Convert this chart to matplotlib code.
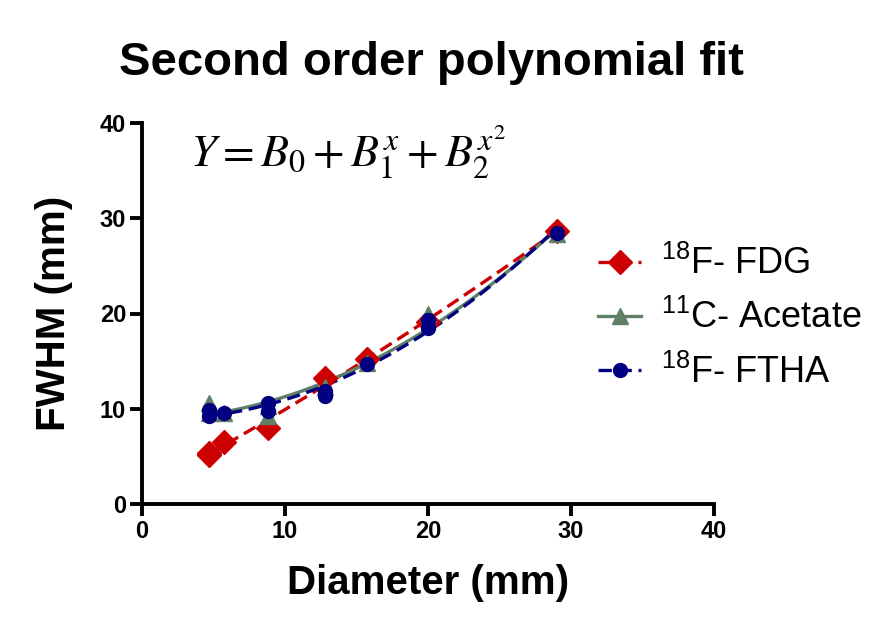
import numpy as np
import matplotlib
matplotlib.use("Agg")
import matplotlib.pyplot as plt
from matplotlib.lines import Line2D

plt.rcParams['font.family'] = ['Liberation Sans', 'DejaVu Sans']
plt.rcParams['mathtext.fontset'] = 'custom'
plt.rcParams['mathtext.rm'] = 'Liberation Sans'
plt.rcParams['mathtext.it'] = 'Liberation Sans'

# Data (diameter in mm, FWHM in mm)
fdg_x = [4.7, 4.7, 5.7, 8.8, 12.8, 15.7, 20.0, 29.0]
fdg_y = [5.1, 5.4, 6.5, 8.0, 13.2, 15.2, 19.1, 28.7]
ace_x = [4.7, 4.7, 5.7, 8.8, 8.8, 12.8, 15.7, 20.0, 29.0]
ace_y = [10.6, 9.6, 9.6, 9.2, 10.3, 12.3, 14.8, 20.0, 28.3]
ftha_x = [4.7, 4.7, 5.7, 8.8, 8.8, 12.8, 12.8, 15.7, 20.0, 20.0, 29.0]
ftha_y = [9.9, 9.2, 9.6, 10.6, 9.8, 11.3, 11.9, 14.7, 19.3, 18.5, 28.5]

labels = ['$^{18}$F- FDG', '$^{11}$C- Acetate', '$^{18}$F- FTHA']
colors = ['#CC0000', '#5F7F66', '#000080']
markers = ['D', '^', 'o']
linestyles = [(0, (4, 2)), '-', (0, (4, 2))]

x_ticks = [0, 10, 20, 30, 40]
y_ticks = [0, 10, 20, 30, 40]

fig = plt.figure(figsize=(8.76, 6.27), dpi=100)
ax = fig.add_axes([142/876, 1-504/627, (714-142)/876, (504-123)/627])

series = [(fdg_x, fdg_y), (ace_x, ace_y), (ftha_x, ftha_y)]
msizes = [12, 11, 10]
for (xs, ys), c, m, ls, ms in zip(series, colors, markers, linestyles, msizes):
    coef = np.polyfit(xs, ys, 2)
    xf = np.linspace(min(xs), max(xs), 200)
    ax.plot(xf, np.polyval(coef, xf), color=c, lw=2.4, linestyle=ls, zorder=3)
    ax.plot(xs, ys, linestyle='none', marker=m, color=c, markersize=ms, zorder=4)

ax.set_xlim(0, 40)
ax.set_ylim(0, 40)
ax.set_xticks(x_ticks)
ax.set_yticks(y_ticks)
for s in ['top', 'right']:
    ax.spines[s].set_visible(False)
for s in ['left', 'bottom']:
    ax.spines[s].set_linewidth(2.8)
ax.tick_params(direction='out', length=8.5, width=2.8, labelsize=17, pad=3)
for lab in ax.get_xticklabels() + ax.get_yticklabels():
    lab.set_fontweight('bold')

ax.set_xlabel('Diameter (mm)', fontsize=29, fontweight='bold', va='center')
ax.xaxis.set_label_coords(0.5, (504-583)/381)
ax.set_ylabel('FWHM (mm)', fontsize=29, fontweight='bold', va='center')
ax.yaxis.set_label_coords((54-142)/572, 0.5)
fig.text(431/876, 1-63/627, 'Second order polynomial fit', fontsize=34, fontweight='bold',
         ha='center', va='center')

fig.text(190/876, 1-152/627, r'$Y = B_0 + B_1^x + B_2^{x^2}$', fontsize=33,
         ha='left', va='center', math_fontfamily='stix')

handles = [Line2D([0], [0], color=c, lw=2.4, linestyle=ls, marker=m, markersize=ms)
           for c, ls, m, ms in zip(colors, linestyles, markers, msizes)]
leg = fig.legend(handles, labels, loc='upper left', bbox_to_anchor=(598/876, 1-246/627),
                 frameon=False, fontsize=26, handlelength=1.2, handletextpad=0.55,
                 labelspacing=0.5, borderpad=0, borderaxespad=0)

fig.savefig('out.png', dpi=100)
